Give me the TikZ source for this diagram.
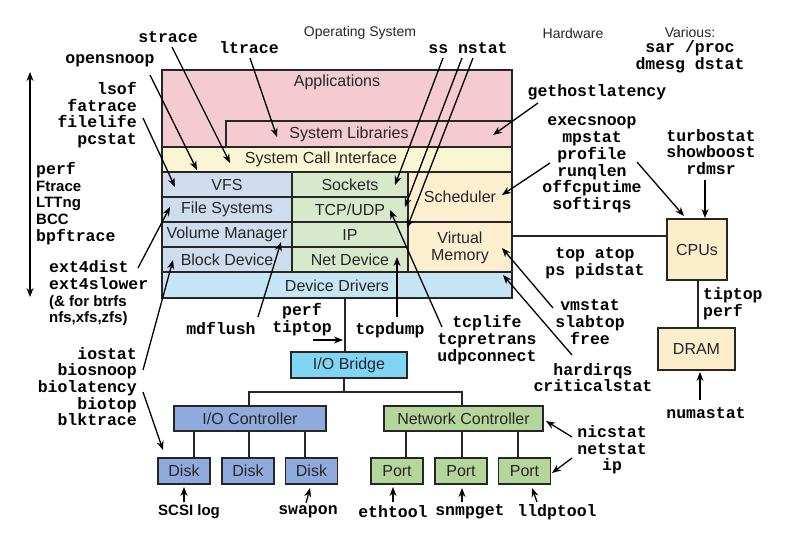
\documentclass[tikz,border=0pt]{standalone}
\usepackage{fontspec}
\setmainfont{Liberation Sans}
\newfontfamily\mono{Liberation Mono}
\usetikzlibrary{arrows.meta}
\definecolor{cApp}{HTML}{F4CBD0}
\definecolor{cSci}{HTML}{FAF6D3}
\definecolor{cFs}{HTML}{CFDCEE}
\definecolor{cNet}{HTML}{D8E8CB}
\definecolor{cSch}{HTML}{FCEFD0}
\definecolor{cDd}{HTML}{C5E5F4}
\definecolor{cBr}{HTML}{80D4F4}
\definecolor{cIo}{HTML}{8FAADC}
\definecolor{cNc}{HTML}{B4D69A}
\definecolor{cCpu}{HTML}{FCEECA}
\definecolor{cLine}{HTML}{262626}
\newcommand\sbf[1]{{\rmfamily\bfseries\fontsize{15}{16.7}\selectfont #1}}
\begin{document}
\begin{tikzpicture}[x=1pt,y=-1pt,
  box/.style={draw=cLine, line width=1.4pt, inner sep=0pt},
  lbl/.style={font=\fontsize{16}{18}\selectfont, text=black!85, inner sep=0pt},
  hdr/.style={font=\fontsize{14}{16}\selectfont, text=black!85, inner sep=0pt},
  tool/.style={font=\mono\bfseries\fontsize{16.5}{16.7}\selectfont, inner sep=0pt, align=center},
  sbold/.style={font=\rmfamily\bfseries\fontsize{15}{16.7}\selectfont, inner sep=0pt},
  conn/.style={draw=cLine, line width=1.4pt},
  arr/.style={draw=black, line width=1.3pt, -{Stealth[length=9pt,width=7pt]}}
]
\useasboundingbox (0,0) rectangle (809,533);

% ---- OS stack ----
\node[box, fill=cApp, minimum width=350pt, minimum height=77pt] (apps) at (337,108.5) {};
\node[box, fill=cApp, minimum width=286pt, minimum height=26pt] (syslib) at (369,134) {};
\node[box, fill=cSci, minimum width=350pt, minimum height=25pt] (sci) at (337,159.5) {};
\node[box, fill=cFs, minimum width=130pt, minimum height=25pt] (vfs) at (227,184.5) {};
\node[box, fill=cFs, minimum width=130pt, minimum height=25pt] (fs) at (227,209.5) {};
\node[box, fill=cFs, minimum width=130pt, minimum height=25pt] (vm) at (227,234.5) {};
\node[box, fill=cFs, minimum width=130pt, minimum height=25pt] (bd) at (227,259.5) {};
\node[box, fill=cNet, minimum width=116pt, minimum height=25pt] (sock) at (350,184.5) {};
\node[box, fill=cNet, minimum width=116pt, minimum height=25pt] (tcp) at (350,209.5) {};
\node[box, fill=cNet, minimum width=116pt, minimum height=25pt] (ip) at (350,234.5) {};
\node[box, fill=cNet, minimum width=116pt, minimum height=25pt] (nd) at (350,259.5) {};
\node[box, fill=cSch, minimum width=104pt, minimum height=50pt] (sched) at (460,197) {};
\node[box, fill=cSch, minimum width=104pt, minimum height=50pt] (virt) at (460,247) {};
\node[box, fill=cDd, minimum width=350pt, minimum height=26pt] (dd) at (337,285) {};

\node[lbl] (appsl) at (337,82) {Applications};
\node[lbl] (syslibl) at (349,134) {System Libraries};
\node[lbl] (scil) at (321,159.5) {System Call Interface};
\node[lbl] (vfsl) at (227,184.5) {VFS};
\node[lbl] (fsl) at (227,209.5) {File Systems};
\node[lbl] (vml) at (227,234.5) {Volume Manager};
\node[lbl] (bdl) at (227,259.5) {Block Device};
\node[lbl] (sockl) at (350,184.5) {Sockets};
\node[lbl] (tcpl) at (350,209.5) {TCP/UDP};
\node[lbl] (ipl) at (350,234.5) {IP};
\node[lbl] (ndl) at (350,259.5) {Net Device};
\node[lbl] (schedl) at (460,197) {Scheduler};
\node[lbl, align=center, font=\fontsize{16}{17}\selectfont] (virtl) at (460,248) {Virtual\\Memory};
\node[lbl] (ddl) at (337,285.5) {Device Drivers};

% ---- hardware ----
\node[box, fill=cBr, minimum width=116pt, minimum height=26pt] (iob) at (349,365) {};
\node[lbl] (iobl) at (iob) {I/O Bridge};
\node[box, fill=cIo, minimum width=152pt, minimum height=25pt] (ioc) at (250,418.5) {};
\node[lbl] (iocl) at (ioc) {I/O Controller};
\node[box, fill=cNc, minimum width=159pt, minimum height=25pt] (nc) at (463.5,418.5) {};
\node[lbl] (ncl) at (nc) {Network Controller};
\node[box, fill=cIo, minimum width=52pt, minimum height=26pt] (disk1) at (184,471) {};
\node[box, fill=cIo, minimum width=52pt, minimum height=26pt] (disk2) at (248,471) {};
\node[box, fill=cIo, minimum width=52pt, minimum height=26pt] (disk3) at (311.5,471) {};
\node[lbl] (disk1l) at (disk1) {Disk};
\node[lbl] (disk2l) at (disk2) {Disk};
\node[lbl] (disk3l) at (disk3) {Disk};
\node[box, fill=cNc, minimum width=52pt, minimum height=26pt] (port1) at (397,471) {};
\node[box, fill=cNc, minimum width=52pt, minimum height=26pt] (port2) at (461,471) {};
\node[box, fill=cNc, minimum width=52pt, minimum height=26pt] (port3) at (524.5,471) {};
\node[lbl] (port1l) at (port1) {Port};
\node[lbl] (port2l) at (port2) {Port};
\node[lbl] (port3l) at (port3) {Port};
\node[box, fill=cCpu, minimum width=60pt, minimum height=61pt] (cpus) at (697,249.5) {};
\node[lbl] (cpusl) at (cpus) {CPUs};
\node[box, fill=cCpu, minimum width=77pt, minimum height=42pt] (dram) at (696.5,349) {};
\node[lbl] (draml) at (dram) {DRAM};

% ---- plain connectors ----
\draw[conn] ([xshift=-4pt]iob.north) -- ([xshift=-4pt]iob.north |- dd.south);
\coordinate (bus) at (344,392);
\draw[conn] ([xshift=-5pt]iob.south) -- (bus);
\draw[conn] ([xshift=-1pt]ioc.north) |- (bus) -| ([xshift=-1.5pt]nc.north);
\foreach \d/\o in {disk1/10, disk2/1, disk3/-6.5}
  \draw[conn] ([xshift=\o pt]\d.north) -- ([xshift=\o pt]\d.north |- ioc.south);
\foreach \d/\o in {port1/9, port2/1, port3/-6.5}
  \draw[conn] ([xshift=\o pt]\d.north) -- ([xshift=\o pt]\d.north |- nc.south);
\draw[conn] ([yshift=11pt]virt.east) -- ([yshift=11pt]virt.east -| cpus.west);
\draw[conn] ([xshift=1pt]cpus.south) -- ([xshift=1pt]cpus.south |- dram.north);

% ---- headers ----
\node[hdr] (hos) at (360,33) {Operating System};
\node[hdr] (hhw) at (573,33) {Hardware};
\node[hdr] (hvar) at (690,32) {Various:};
\node[tool] (tsar) at (690,48) {sar /proc};
\node[tool] (tdmesg) at (690,65) {dmesg dstat};

% ---- tool labels ----
\node[tool] (tstrace) at (168,37) {strace};
\node[tool] (tltrace) at (249,48) {ltrace};
\node[tool] (topen) at (110,61) {opensnoop};
\node[tool, align=right, anchor=east] (tlsof) at (137,115) {lsof\\fatrace\\filelife\\pcstat};
\node[tool, align=left, anchor=west] (tperf) at (36,203.5) {perf\\\sbf{Ftrace}\\\sbf{LTTng}\\\sbf{BCC}\\bpftrace};
\node[tool, align=left, anchor=west] (text4) at (49,293.5) {ext4dist\\ext4slower\\\sbf{(\& for btrfs}\\\sbf{nfs,xfs,zfs)}};
\node[tool] (tmdflush) at (221,328) {mdflush};
\node[tool] (ttiptop) at (302,319.5) {perf\\tiptop};
\node[tool] (ttcpdump) at (390,330) {tcpdump};
\node[tool] (ttcplife) at (487,340) {tcplife\\tcpretrans\\udpconnect};
\node[tool] (tss) at (468,48) {ss nstat};
\node[tool] (tgethost) at (597,92) {gethostlatency};
\node[tool] (texec) at (592,165) {execsnoop\\mpstat\\profile\\runqlen\\offcputime\\softirqs};
\node[tool] (tturbo) at (711,152) {turbostat\\showboost\\rdmsr};
\node[tool] (ttop) at (595,263.5) {top atop\\ps pidstat};
\node[tool] (tvmstat) at (590,322) {vmstat\\slabtop\\free};
\node[tool] (thard) at (593,377.5) {hardirqs\\criticalstat};
\node[tool, align=left, anchor=west] (ttip2) at (703,303.5) {tiptop\\perf};
\node[tool] (tnuma) at (706,413) {numastat};
\node[tool, align=right, anchor=east] (tiostat) at (137,386.5) {iostat\\biosnoop\\biolatency\\biotop\\blktrace};
\node[sbold] (tscsi) at (189,512) {SCSI log};
\node[tool] (tswapon) at (308,512) {swapon};
\node[tool] (tethtool) at (393,512) {ethtool};
\node[tool] (tsnmp) at (470,512) {snmpget};
\node[tool] (tlldp) at (557,512) {lldptool};
\node[tool] (tnic) at (612,450) {nicstat\\netstat\\ip};

% ---- arrows ----
\foreach \n/\sx/\sy/\ex/\ey in {
  strace/172/47/230/163, ltrace/250/58/277/137, opensnoop/150/75/197/170,
  fatrace/143/118/175/187, ext4/138/268/170/207, mdflush/258/317/281/242,
  tiptop/313/340/343/340, tcpdump/397/317/397/257, tcplife/442/327/390/210,
  ss/443/58/395/185, nstata/462/58/405/207, nstatb/473/58/407/228,
  gethost/538/103/493/135, profile/550/163/502/195, runqlen/637/162/684/216,
  rdmsr/705/180/705/218, vmstat/553/308/502/248, hardirqs/572/355/503/275,
  numastat/700/400/700/372, biosnoop/143/370/173/260, biolat/143/392/163/450,
  scsi/184/502/184/487, swapon/306/503/310/488, ethtool/393/502/393/487,
  snmpget/462/502/462/488, lldptool/537/502/532/488, nicstat/572/437/546/421,
  netstat/572/458/552/473}
{
  \coordinate (\n-s) at (\sx,\sy);
  \coordinate (\n-e) at (\ex,\ey);
  \draw[arr] (\n-s) -- (\n-e);
}
\coordinate (vtop) at (30,72);
\coordinate (vbot) at (30,297);
\draw[arr, {Stealth[length=9pt,width=7pt]}-{Stealth[length=9pt,width=7pt]}] (vtop) -- (vbot);
\end{tikzpicture}
\end{document}
